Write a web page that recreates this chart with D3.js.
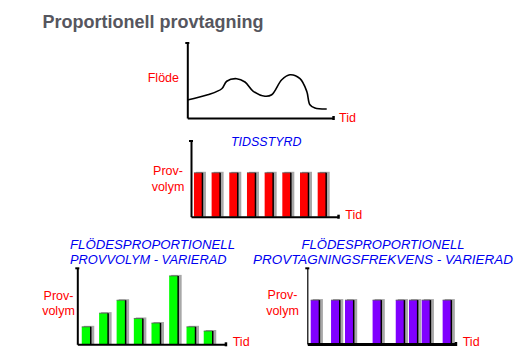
<!DOCTYPE html>
<html>
<head>
<meta charset="utf-8">
<script src="https://cdn.jsdelivr.net/npm/d3@7"></script>
<style>
  body { margin: 0; background: #fff; }
  svg { display: block; font-family: "Liberation Sans", Arial, sans-serif; }
</style>
</head>
<body>
<svg id="chart" width="524" height="363"></svg>
<script>
// flow curve (time 0-100, flow 0-100)
const flowTime  = [0, 14, 23.6, 27, 33.8, 39.5, 45.2, 53.2, 57.8, 64.7, 70.3, 77.2, 81.8, 84, 87.4, 95.5];
const flowValue = [24, 31, 39, 49, 52.4, 48, 35.6, 29, 31, 51, 57.7, 52.4, 35.6, 17.7, 13.3, 12];

// time controlled: fixed interval, fixed volume
const timedTimes   = [2, 14, 26, 38, 50, 62, 74, 86];
const timedVolumes = [5.8, 5.8, 5.8, 5.8, 5.8, 5.8, 5.8, 5.8];

// flow proportional: fixed interval, varied volume
const volTimes   = [3, 14.7, 26.5, 38.1, 50, 61.9, 73.6, 85.2];
const volVolumes = [2.3, 4.1, 5.8, 3.4, 2.8, 9.0, 2.3, 1.75];

// flow proportional: varied interval, fixed volume
const freqTimes   = [2.3, 16, 25.4, 44, 59.6, 68.5, 77.1, 91.2];
const freqVolumes = [5.8, 5.8, 5.8, 5.8, 5.8, 5.8, 5.8, 5.8];

const mainTitle = 'Proportionell provtagning';
const timedTitle = ['TIDSSTYRD'];
const volTitle = ['FLÖDESPROPORTIONELL', 'PROVVOLYM - VARIERAD'];
const freqTitle = ['FLÖDESPROPORTIONELL', 'PROVTAGNINGSFREKVENS - VARIERAD'];

const svg = d3.select('#chart');
const RED = '#ff0000', BLUE = '#0000f0';

svg.append('text')
  .attr('x', 42.5).attr('y', 28.3)
  .attr('font-size', 18).attr('font-weight', 'bold')
  .attr('fill', '#56565e')
  .text(mainTitle);

// draws the two bare axes with little end caps
function axes(g, x, y, xw, yw) {
  const xa = g.append('g').attr('transform', `translate(0,${y.range()[0]})`)
    .call(d3.axisBottom(x).tickValues([]).tickSizeOuter(0));
  const ya = g.append('g').attr('transform', `translate(${x.range()[0]},0)`)
    .call(d3.axisLeft(y).tickValues([]).tickSizeOuter(0));
  xa.select('.domain').attr('stroke', '#000').attr('stroke-width', xw);
  ya.select('.domain').attr('stroke', '#000').attr('stroke-width', yw);
  g.append('rect').attr('x', x.range()[0] - 2).attr('y', y.range()[1] - 1)
    .attr('width', 4).attr('height', 2).attr('fill', '#000');
  g.append('rect').attr('x', x.range()[1] - 1).attr('y', y.range()[0] - 2)
    .attr('width', 2.5).attr('height', 4).attr('fill', '#000');
}

function label(g, lines, x, y, anchor) {
  lines.forEach((t, i) => {
    g.append('text').attr('x', x).attr('y', y + i * 15.5)
      .attr('text-anchor', anchor || 'middle')
      .attr('font-size', 12.5).attr('fill', RED)
      .text(t);
  });
}

// ---------- top flow curve ----------
{
  const g = svg.append('g');
  const x = d3.scaleLinear().domain([0, 100]).range([187.3, 333.3]);
  const y = d3.scaleLinear().domain([0, 100]).range([118, 43]);
  axes(g, x, y, 2, 2);

  const line = d3.line()
    .x((d, i) => x(flowTime[i]))
    .y(d => y(d))
    .curve(d3.curveCatmullRom.alpha(0.5));

  g.append('path')
    .datum(flowValue)
    .attr('fill', 'none')
    .attr('stroke', '#000')
    .attr('stroke-width', 1.6)
    .attr('d', line);

  label(g, ['Flöde'], 179, 81.7, 'end');
  label(g, ['Tid'], 339, 121.7, 'start');
}

function barChart(cfg) {
  const g = svg.append('g');
  const x = d3.scaleLinear().domain([0, 100]).range(cfg.xr);
  const y = d3.scaleLinear().domain([0, 10]).range(cfg.yr);
  const w = cfg.bw;

  const bars = g.selectAll('g.bar')
    .data(cfg.times.map((t, i) => ({ t: t, v: cfg.values[i] })))
    .join('g').attr('class', 'bar');

  bars.append('rect')   // shadow
    .attr('x', d => x(d.t) + 2)
    .attr('y', d => y(d.v) - 1)
    .attr('width', w + 1.5)
    .attr('height', d => y(0) - y(d.v) + 1)
    .attr('fill', '#a8a8a8');
  bars.append('rect')
    .attr('x', d => x(d.t))
    .attr('y', d => y(d.v))
    .attr('width', w)
    .attr('height', d => y(0) - y(d.v))
    .attr('fill', cfg.color);
  bars.append('line')
    .attr('x1', d => x(d.t)).attr('x2', d => x(d.t) + w)
    .attr('y1', d => y(d.v)).attr('y2', d => y(d.v))
    .attr('stroke', '#555').attr('stroke-width', 0.8);
  bars.append('line')
    .attr('x1', d => x(d.t) + w).attr('x2', d => x(d.t) + w)
    .attr('y1', d => y(d.v)).attr('y2', y(0))
    .attr('stroke', '#000').attr('stroke-width', 1.5);

  axes(g, x, y, cfg.xw, cfg.yw);

  cfg.title.forEach((t, i) => {
    g.append('text')
      .attr('x', cfg.tx).attr('y', cfg.ty + i * 14.6)
      .attr('text-anchor', cfg.tanchor)
      .attr('font-size', 13).attr('font-style', 'italic')
      .attr('fill', BLUE)
      .attr('textLength', cfg.tlen[i]).attr('lengthAdjust', 'spacingAndGlyphs')
      .text(t);
  });

  label(g, ['Prov-', 'volym'], cfg.lx, cfg.ly);
  label(g, ['Tid'], cfg.xr[1] + 7, cfg.yr[0] + 2, 'start');
}

barChart({
  times: timedTimes, values: timedVolumes, color: '#ff0000',
  xr: [191, 338.3], yr: [216.7, 141], bw: 8.5, xw: 2, yw: 2,
  title: timedTitle, tx: 231, ty: 145.7, tanchor: 'start', tlen: [70.5],
  lx: 168, ly: 175
});

barChart({
  times: volTimes, values: volVolumes, color: '#00ff00',
  xr: [77.3, 225.7], yr: [344.3, 268.3], bw: 9, xw: 2, yw: 2,
  title: volTitle, tx: 70, ty: 249.2, tanchor: 'start', tlen: [165, 156.5],
  lx: 58.5, ly: 299.5
});

barChart({
  times: freqTimes, values: freqVolumes, color: '#8000ff',
  xr: [307.3, 455.7], yr: [344, 268.3], bw: 8.7, xw: 3, yw: 1.2,
  title: freqTitle, tx: 383, ty: 249.2, tanchor: 'middle', tlen: [163, 260],
  lx: 282.5, ly: 299
});
</script>
</body>
</html>
